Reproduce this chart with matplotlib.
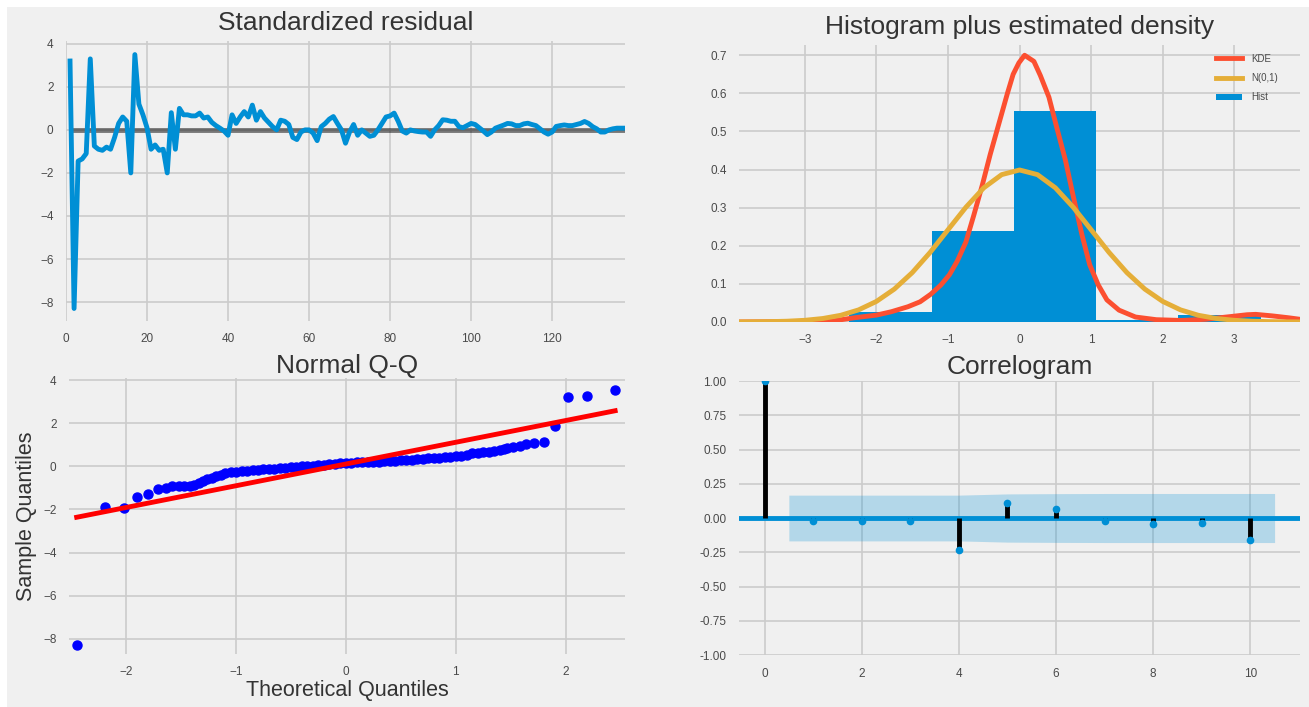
import numpy as np
import matplotlib
matplotlib.use("Agg")
import matplotlib.pyplot as plt
from matplotlib.patches import Rectangle
from matplotlib.ticker import FormatStrFormatter

# ---------------- data ----------------
resid_index = list(range(1, 139))
resid_values = [
    3.2, -8.3, -1.45, -1.35, -1.1, 3.3, -0.75, -0.9, -0.95, -0.8,
    -0.9, -0.35, 0.3, 0.6, 0.4, -2.0, 3.5, 1.2, 0.7, 0.1,
    -0.9, -0.7, -0.95, -0.9, -2.0, 0.8, -0.9, 1.0, 0.7, 0.7,
    0.65, 0.65, 0.78, 0.55, 0.6, 0.35, 0.2, 0.08, -0.05, -0.25,
    0.7, 0.3, 0.6, 0.85, 0.6, 1.15, 0.45, 0.85, 0.55, 0.35,
    0.15, 0.0, 0.45, 0.4, 0.25, -0.35, -0.45, -0.1, 0.0, 0.0,
    -0.15, -0.5, 0.15, 0.3, 0.5, 0.62, 0.3, 0.0, -0.62, -0.1,
    0.25, -0.25, 0.0, -0.15, -0.3, -0.25, 0.0, 0.3, 0.6, 0.65,
    0.78, 0.4, -0.05, -0.15, 0.0, -0.05, -0.08, -0.1, -0.1, -0.3,
    0.0, 0.2, 0.47, 0.45, 0.4, 0.4, 0.15, 0.1, 0.2, 0.3,
    0.25, 0.1, -0.05, -0.22, -0.1, 0.08, 0.15, 0.22, 0.3, 0.28,
    0.2, 0.2, 0.28, 0.31, 0.25, 0.2, 0.05, -0.1, -0.2, -0.1,
    0.16, 0.2, 0.23, 0.2, 0.2, 0.25, 0.3, 0.39, 0.3, 0.15,
    0.05, -0.1, -0.1, 0.0, 0.05, 0.08, 0.08, 0.08,
]

hist_edges = [-8.13, -6.98, -5.83, -4.68, -3.53, -2.38, -1.23, -0.08, 1.07, 2.22, 3.37]
hist_heights = [0.006, 0.0, 0.0, 0.0, 0.0, 0.025, 0.24, 0.553, 0.006, 0.019]

kde_x = [-3.92, -3.5, -3.0, -2.6, -2.31, -2.0, -1.79, -1.56, -1.39, -1.24, -1.1, -0.98,
         -0.87, -0.75, -0.64, -0.52, -0.41, -0.29, -0.17, -0.09, -0.01, 0.07, 0.2, 0.29,
         0.41, 0.52, 0.64, 0.75, 0.87, 0.98, 1.1, 1.22, 1.39, 1.62, 1.91, 2.26, 2.6,
         2.89, 3.18, 3.3, 3.53, 3.76, 3.92]
kde_y = [0.0, 0.0005, 0.001, 0.003, 0.011, 0.018, 0.027, 0.04, 0.053, 0.073, 0.097, 0.124,
         0.16, 0.21, 0.28, 0.36, 0.44, 0.52, 0.6, 0.65, 0.68, 0.70, 0.684, 0.647,
         0.59, 0.51, 0.425, 0.33, 0.23, 0.15, 0.097, 0.058, 0.031, 0.013, 0.006, 0.004, 0.007,
         0.013, 0.019, 0.02, 0.016, 0.011, 0.007]

norm_x = [-3.92, -3.75, -3.5, -3.25, -3.0, -2.75, -2.5, -2.25, -2.0, -1.75, -1.5, -1.25,
          -1.0, -0.75, -0.5, -0.25, 0.0, 0.25, 0.5, 0.75, 1.0, 1.25, 1.5, 1.75, 2.0,
          2.25, 2.5, 2.75, 3.0, 3.25, 3.5, 3.75, 3.92]
norm_y = [0.0002, 0.0004, 0.0009, 0.0020, 0.0044, 0.0091, 0.0175, 0.0317, 0.0540, 0.0863,
          0.1295, 0.1826, 0.2420, 0.3011, 0.3521, 0.3867, 0.3989, 0.3867, 0.3521, 0.3011,
          0.2420, 0.1826, 0.1295, 0.0863, 0.0540, 0.0317, 0.0175, 0.0091, 0.0044, 0.0020,
          0.0009, 0.0004, 0.0002]

qq_theoretical = [
    -2.45, -2.19, -2.02, -1.90, -1.80, -1.71, -1.64, -1.58, -1.52, -1.47,
    -1.42, -1.38, -1.34, -1.30, -1.26, -1.22, -1.18, -1.14, -1.10, -1.05,
    -1.00, -0.95, -0.90, -0.85, -0.80, -0.75, -0.70, -0.65, -0.60, -0.55,
    -0.50, -0.45, -0.40, -0.35, -0.30, -0.25, -0.20, -0.15, -0.10, -0.05,
    0.00, 0.05, 0.10, 0.15, 0.20, 0.25, 0.30, 0.35, 0.40, 0.45,
    0.50, 0.55, 0.60, 0.65, 0.70, 0.75, 0.80, 0.85, 0.90, 0.95,
    1.00, 1.05, 1.10, 1.15, 1.20, 1.25, 1.30, 1.35, 1.40, 1.44,
    1.47, 1.52, 1.58, 1.64, 1.71, 1.80, 1.90, 2.02, 2.19, 2.45,
]
qq_sample = [
    -8.29, -1.90, -1.94, -1.43, -1.30, -1.07, -0.98, -0.93, -0.92, -0.93,
    -0.92, -0.86, -0.76, -0.68, -0.60, -0.52, -0.45, -0.38, -0.33, -0.28,
    -0.24, -0.22, -0.20, -0.18, -0.16, -0.14, -0.12, -0.10, -0.08, -0.06,
    -0.04, -0.02, 0.00, 0.02, 0.04, 0.06, 0.08, 0.10, 0.12, 0.14,
    0.16, 0.17, 0.18, 0.19, 0.20, 0.21, 0.22, 0.23, 0.25, 0.27,
    0.28, 0.30, 0.31, 0.33, 0.35, 0.37, 0.39, 0.41, 0.43, 0.45,
    0.48, 0.50, 0.55, 0.60, 0.64, 0.66, 0.68, 0.72, 0.78, 0.82,
    0.85, 0.90, 0.95, 1.02, 1.10, 1.14, 1.86, 3.23, 3.28, 3.54,
]
qq_line_x = [-2.45, 2.45]
qq_line_y = [-2.36, 2.58]

acf_lags = [0, 1, 2, 3, 4, 5, 6, 7, 8, 9, 10]
acf_values = [1.0, -0.02, -0.02, -0.02, -0.235, 0.108, 0.065, -0.02, -0.043, -0.036, -0.158]
band_lags = [0.5, 2, 3, 4, 5, 6, 7, 8, 9, 10.5]
band_half = [0.167, 0.167, 0.167, 0.167, 0.176, 0.178, 0.179, 0.179, 0.179, 0.179]

# ---------------- style ----------------
plt.rcParams["font.family"] = ["Liberation Sans", "DejaVu Sans"]
BG = "#f0f0f0"
GRID = "#cbcbcb"
TXT = "#333333"
TICK = "#4a4a4a"
BLUE = "#008fd5"
RED = "#fc4f30"
ORANGE = "#e5ae38"

fig = plt.figure(figsize=(13.09, 7.07), dpi=100, facecolor="white")
fig.patches.append(Rectangle((7 / 1309, 0), 1 - 7 / 1309, 1 - 7 / 707,
                             transform=fig.transFigure, facecolor=BG,
                             edgecolor="none", zorder=-10))


def style(ax):
    ax.set_facecolor(BG)
    for s in ax.spines.values():
        s.set_visible(False)
    ax.grid(True, color=GRID, linewidth=1.2)
    ax.set_axisbelow(True)
    ax.tick_params(length=0, labelsize=8.5, labelcolor=TICK, pad=9)


ax1 = fig.add_axes([0.0504, 0.546, 0.4271, 0.396])
ax2 = fig.add_axes([0.5646, 0.5446, 0.4286, 0.3918])
ax3 = fig.add_axes([0.0527, 0.0750, 0.4248, 0.3904])
ax4 = fig.add_axes([0.5646, 0.0735, 0.4286, 0.3876])
for a in (ax1, ax2, ax3, ax4):
    style(a)

# Standardized residual
ax1.plot(resid_index, resid_values, color=BLUE, lw=3.5, zorder=3)
ax1.hlines(0, resid_index[0], resid_index[-1], colors="k", alpha=0.5, lw=3.5, zorder=2)
ax1.set_xlim(0, 138)
ax1.set_ylim(-8.88, 4.13)
ax1.set_xticks([0, 20, 40, 60, 80, 100, 120])
ax1.set_yticks([-8, -6, -4, -2, 0, 2, 4])
ax1.set_title("Standardized residual", fontsize=19, color=TXT, pad=8)

# Histogram plus estimated density
widths = np.diff(hist_edges)
ax2.bar(hist_edges[:-1], hist_heights, width=widths, align="edge",
        color=BLUE, edgecolor="none", label="Hist", zorder=2)
ax2.plot(kde_x, kde_y, color=RED, lw=3.5, label="KDE", zorder=3)
ax2.plot(norm_x, norm_y, color=ORANGE, lw=3.5, label="N(0,1)", zorder=4)
ax2.set_xlim(-3.92, 3.92)
ax2.set_ylim(0, 0.727)
ax2.set_xticks([-3, -2, -1, 0, 1, 2, 3])
ax2.set_yticks([0.0, 0.1, 0.2, 0.3, 0.4, 0.5, 0.6, 0.7])
ax2.yaxis.set_major_formatter(FormatStrFormatter("%.1f"))
ax2.set_title("Histogram plus estimated density", fontsize=19, color=TXT, pad=8)
h, l = ax2.get_legend_handles_labels()
order = [l.index("KDE"), l.index("N(0,1)"), l.index("Hist")]
leg = ax2.legend([h[i] for i in order], [l[i] for i in order], loc="upper right",
                 bbox_to_anchor=(0.968, 0.982), borderaxespad=0.0,
                 frameon=False, fontsize=7, handlelength=2.7, handletextpad=1.0,
                 labelspacing=0.95)
for t in leg.get_texts():
    t.set_color(TICK)

# Normal Q-Q
ax3.plot(qq_theoretical, qq_sample, "o", color="#0000ff", markersize=6.5,
         markeredgecolor="#0000ff", zorder=3)
ax3.plot(qq_line_x, qq_line_y, color="#ff0000", lw=3.5, zorder=4)
ax3.set_xlim(-2.52, 2.54)
ax3.set_ylim(-8.7, 4.1)
ax3.set_xticks([-2, -1, 0, 1, 2])
ax3.set_yticks([-8, -6, -4, -2, 0, 2, 4])
ax3.set_title("Normal Q-Q", fontsize=19, color=TXT, pad=3)
ax3.set_xlabel("Theoretical Quantiles", fontsize=15.5, color=TXT, labelpad=1)
ax3.set_ylabel("Sample Quantiles", fontsize=15.5, color=TXT, labelpad=4)

# Correlogram
ax4.fill_between(band_lags, [-v for v in band_half], band_half,
                 color=BLUE, alpha=0.25, linewidth=0, zorder=1)
ax4.axhline(0, color=BLUE, lw=3.5, zorder=2)
ax4.vlines(acf_lags, 0, acf_values, colors="k", lw=3.5, zorder=3)
ax4.plot(acf_lags, acf_values, "o", color=BLUE, markersize=4.5, zorder=4)
ax4.set_xlim(-0.525, 11.025)
ax4.set_ylim(-1, 1)
ax4.set_xticks([0, 2, 4, 6, 8, 10])
ax4.set_yticks([-1.0, -0.75, -0.5, -0.25, 0.0, 0.25, 0.5, 0.75, 1.0])
ax4.yaxis.set_major_formatter(FormatStrFormatter("%.2f"))
ax4.set_title("Correlogram", fontsize=19, color=TXT, pad=5)

fig.savefig("out.png", dpi=100, facecolor=fig.get_facecolor())
